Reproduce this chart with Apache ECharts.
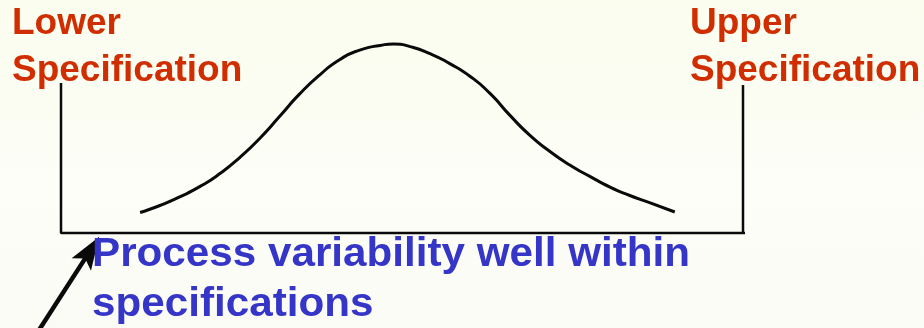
<!DOCTYPE html>
<html>
<head>
<meta charset="utf-8">
<script src="https://cdn.jsdelivr.net/npm/echarts@6/dist/echarts.min.js"></script>
<style>
  html, body { margin: 0; padding: 0; }
  #chart { width: 924px; height: 328px; }
</style>
</head>
<body>
<div id="chart"></div>
<script>
// Process distribution: measurement position (0 = lower spec, 100 = upper spec) vs. relative frequency
const curveX = [11.6, 14.5, 17.4, 20.4, 23.3, 26.2, 29.2, 32.1, 35.0, 38.0, 40.9, 43.8, 46.8, 48.8,
                51.2, 54.1, 57.0, 60.0, 62.9, 65.8, 68.8, 71.7, 74.6, 77.6, 80.5, 83.4, 86.4, 90.0];
const curveY = [8.8, 11.8, 15.5, 20.0, 25.5, 32.4, 40.8, 50.2, 59.7, 68.0, 74.5, 78.5, 80.5, 81.1,
                80.0, 77.0, 72.7, 67.2, 59.9, 50.6, 41.8, 35.0, 29.2, 24.2, 19.7, 16.1, 12.9, 9.0];

// Specification limits and the height of their marker lines
const lowerSpec = 0;
const upperSpec = 100;
const lowerSpecHeight = 64.4;
const upperSpecHeight = 63.5;
const baselineEnd = 100.6;

// Text
const lowerLabel = ['Lower', 'Specification'];
const upperLabel = ['Upper', 'Specification'];
const noteLabel = ['Process variability well within', 'specifications'];

// Pointer from the note to the lower end of the baseline: [fromX, fromY, toX, toY]
const pointer = [-3.5, -42.9, 5.6, -1.6];

const chart = echarts.init(document.getElementById('chart'), null, { renderer: 'canvas' });

const red = '#D02E00';
const blue = '#3535C8';
const ink = '#0A0A0A';
const font = '"Liberation Sans", Arial, sans-serif';

function textLines(lines, x, ys, size, color, sx) {
  return lines.map((t, i) => ({
    type: 'text',
    x: x,
    y: ys[i],
    scaleX: sx || 1,
    z: 10,
    style: { text: t, fill: color, font: 'bold ' + size + 'px ' + font, verticalAlign: 'top', align: 'left' }
  }));
}

// Arrow drawn from a shaft and a notched head
function renderPointer(params, api) {
  const p0 = api.coord([api.value(0), api.value(1)]);
  const p1 = api.coord([api.value(2), api.value(3)]);
  const dx = p1[0] - p0[0], dy = p1[1] - p0[1];
  const len = Math.sqrt(dx * dx + dy * dy);
  const ux = dx / len, uy = dy / len;
  const nx = -uy, ny = ux;
  const headLen = 33, headHalf = 11.5, notch = 26;
  const at = (a, b) => [p1[0] + ux * a + nx * b, p1[1] + uy * a + ny * b];
  return {
    type: 'group',
    children: [
      {
        type: 'line',
        shape: { x1: p0[0], y1: p0[1], x2: at(-notch + 2, 0)[0], y2: at(-notch + 2, 0)[1] },
        style: { stroke: ink, lineWidth: 4.5 }
      },
      {
        type: 'polygon',
        shape: { points: [p1, at(-headLen, headHalf), at(-notch, 0), at(-headLen, -headHalf)] },
        style: { fill: ink }
      }
    ]
  };
}

chart.setOption({
  backgroundColor: {
    type: 'linear', x: 0, y: 0, x2: 0, y2: 1,
    colorStops: [
      { offset: 0, color: '#FAFDEE' },
      { offset: 0.6, color: '#FDFEF8' },
      { offset: 1, color: '#FAFBF5' }
    ]
  },
  animation: false,
  grid: { left: 61, right: 181, top: 0, bottom: 95, containLabel: false },
  xAxis: { type: 'value', min: 0, max: 100, show: false },
  yAxis: { type: 'value', min: 0, max: 100, show: false },
  series: [
    {
      type: 'line',
      smooth: 0.6,
      symbol: 'none',
      clip: false,
      lineStyle: { color: ink, width: 3 },
      data: curveX.map((x, i) => [x, curveY[i]])
    },
    {
      type: 'line',
      symbol: 'none',
      clip: false,
      lineStyle: { color: ink, width: 2.5 },
      data: [[lowerSpec, lowerSpecHeight], [lowerSpec, 0], [baselineEnd, 0]]
    },
    {
      type: 'line',
      symbol: 'none',
      clip: false,
      lineStyle: { color: ink, width: 2.5 },
      data: [[upperSpec, upperSpecHeight], [upperSpec, 0]]
    },
    {
      type: 'custom',
      clip: false,
      silent: true,
      renderItem: renderPointer,
      data: [pointer]
    }
  ],
  graphic: [
    ...textLines(lowerLabel, 12, [5, 52], 37, red),
    ...textLines(upperLabel, 690, [5, 52], 37, red),
    ...textLines(noteLabel, 92, [235, 285], 40, blue, 1.055)
  ]
});
</script>
</body>
</html>
